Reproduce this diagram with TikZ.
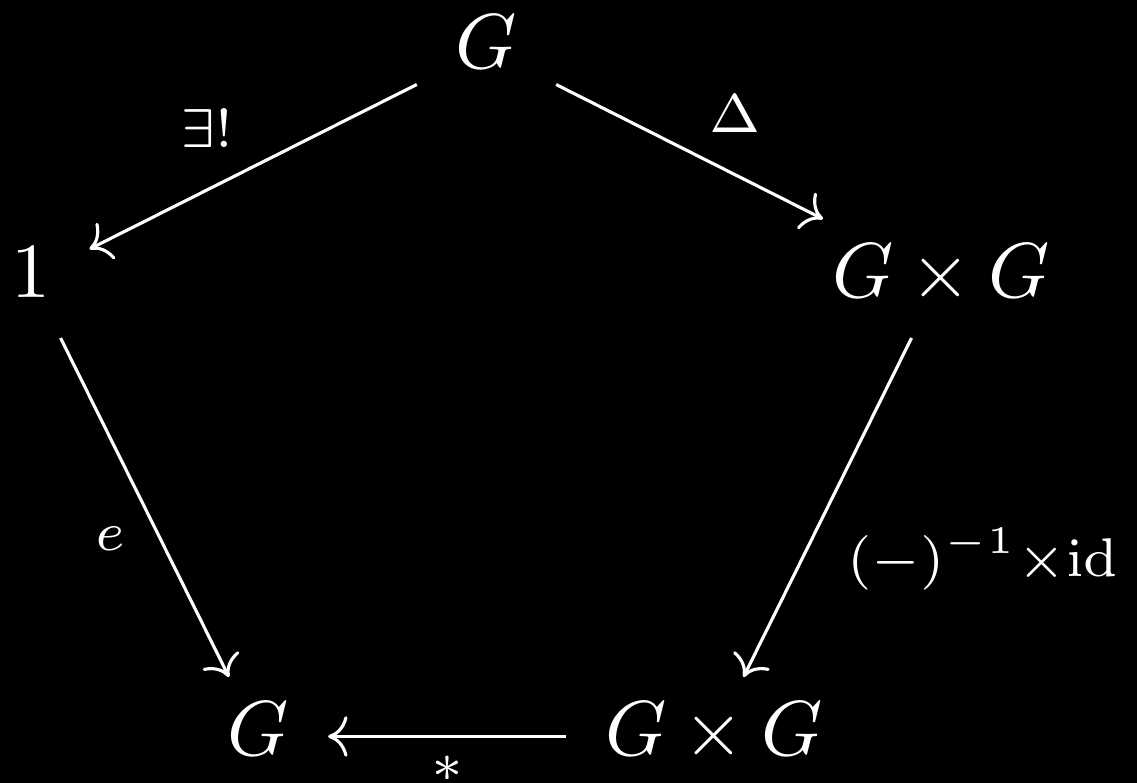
\documentclass[tikz,border=0pt]{standalone}
\usetikzlibrary{arrows.meta}
\tikzset{
obj/.style={anchor=base, text height=0.683em, text depth=0.183em, inner xsep=4.8pt, inner ysep=3.1pt},
lbl/.style={inner sep=2.33pt},
}
\begin{document}
\begin{tikzpicture}[x=0.4506cm,y=0.4506cm,color=white,>={Computer Modern Rightarrow}]
\useasboundingbox (0,0) rectangle (11.37,7.83);
\fill[black] (0,0) rectangle (11.37,7.83);
\node[obj] (gtop) at (4.865,7.14) {$G$};
\node[obj] (one) at (0.31,4.85) {$1$};
\node[obj] (ggr) at (9.41,4.85) {$G\times G$};
\node[obj] (gbot) at (2.585,0.27) {$G$};
\node[obj] (ggb) at (7.14,0.27) {$G\times G$};
\draw[->] (gtop) -- node[lbl, above left] (lexists) {$\scriptstyle\exists!$} (one);
\draw[->] (gtop) -- node[lbl, above right] (ldelta) {$\scriptstyle\Delta$} (ggr);
\draw[->] (one) -- node[lbl, below left] (le) {$\scriptstyle e$} (gbot);
\draw[->] (ggr) -- node[lbl, below right] (linv) {$\scriptstyle(-)^{-1}\times\mathrm{id}$} (ggb);
\draw[->] (ggb) -- node[lbl, below] (lmult) {$\scriptstyle *$} (gbot);
\end{tikzpicture}
\end{document}
